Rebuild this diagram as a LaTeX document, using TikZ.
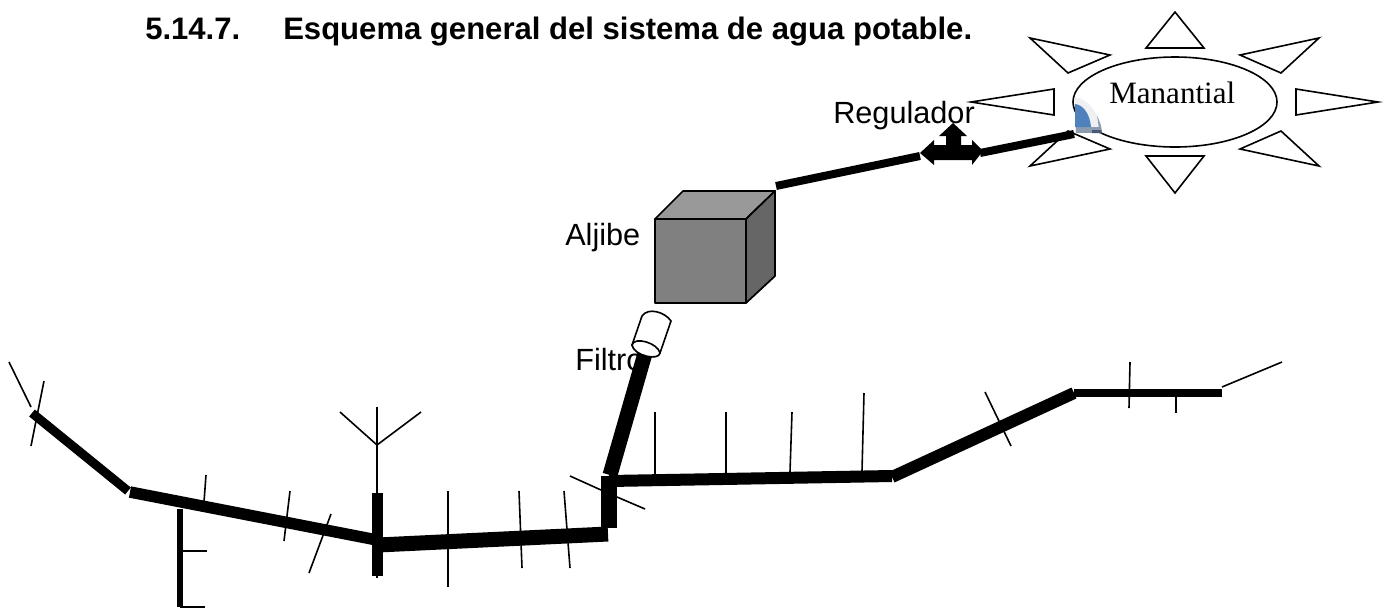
\documentclass[tikz,border=0pt]{standalone}
\usepackage{fontspec}
\setmainfont{Liberation Sans}
\newfontfamily\serifface{Liberation Serif}
\definecolor{markblue}{RGB}{79,129,189}
\definecolor{markpale}{RGB}{238,240,243}
\definecolor{markstrip}{RGB}{140,155,175}
\definecolor{markdark}{RGB}{70,90,120}
\tikzset{
  thin line/.style={line width=1.2pt,black},
  pipe/.style={line width=#1*0.75pt,black,line cap=butt,line join=miter},
  ray/.style={draw=black,line width=1.2pt,fill=white,line join=miter},
  label/.style={inner sep=0pt,anchor=base west,font=\fontsize{23}{27}\selectfont},
  titlelabel/.style={inner sep=0pt,anchor=base west,font=\fontsize{23.3}{27}\selectfont\bfseries},
  cubeedge/.style={draw=black,line width=1.3pt,line join=round}
}
\begin{document}
\begin{tikzpicture}[x=0.75pt,y=-0.75pt]
\useasboundingbox (0,0) rectangle (1388,608);
\fill[white] (0,0) rectangle (1388,608);
% title
\node[titlelabel] (title) at (145,39) {5.14.7.};
\node[titlelabel] (titletext) at (283,39) {Esquema general del sistema de agua potable.};
% sun rays
\draw[ray] (1175,12) -- (1146,48) -- (1204,48) -- cycle;
\draw[ray] (1240,55) -- (1319,38) -- (1281,73) -- cycle;
\draw[ray] (1296,89) -- (1378,102) -- (1296,115) -- cycle;
\draw[ray] (1240,149) -- (1281,131) -- (1319,166) -- cycle;
\draw[ray] (1146,156) -- (1204,156) -- (1175,193) -- cycle;
\draw[ray] (1110,149) -- (1068,131) -- (1030,166) -- cycle;
\draw[ray] (971,102) -- (1054,89) -- (1054,115) -- cycle;
\draw[ray] (1030,38) -- (1110,55) -- (1068,73) -- cycle;
% spring
\draw[ray] (1175,102) ellipse [x radius=102,y radius=45];
\node[label,font=\fontsize{23.3}{27}\serifface\selectfont] (manantial) at (1109,103) {Manantial};
% small blue mark
\fill[markpale] (1075,97) .. controls (1089,99) and (1100,115) .. (1102,133) -- (1075,133) -- cycle;
\fill[markstrip] (1097,116) .. controls (1100,121) and (1102,128) .. (1102,133) -- (1099,133) .. controls (1099,127) and (1098,121) .. (1097,116) -- cycle;
\fill[markstrip] (1076,127) rectangle (1101,133);
\fill[markdark] (1092,130) -- (1101,130) -- (1102,133) -- (1092,133) -- cycle;
\fill[markblue] (1075,104) .. controls (1084,105) and (1090,115) .. (1091,127) -- (1075,127) -- cycle;
% labels under the drawing
\node[label] (regulador) at (833,123) {Regulador};
\node[label] (aljibe) at (565,245) {Aljibe};
\node[label] (filtro) at (575,370) {Filtro};
% upper pipe and regulator
\draw[pipe=8] (776,186) -- (920,156);
\draw[pipe=8] (980,153) -- (1074,134);
\fill[black] (920,153) -- (934,140) -- (934,145) -- (946,145) -- (946,136) -- (939,136) -- (953,123)
  -- (967,136) -- (961,136) -- (961,145) -- (972,145) -- (972,140) -- (983,151) -- (972,165) -- (972,160)
  -- (934,160) -- (934,165) -- cycle;
% cube
\fill[fill={rgb,255:red,128;green,128;blue,128}] (655,219) rectangle (746,303);
\filldraw[cubeedge,fill={rgb,255:red,153;green,153;blue,153}] (655,219) -- (683,191) -- (775,191) -- (746,219) -- cycle;
\filldraw[cubeedge,fill={rgb,255:red,102;green,102;blue,102}] (746,219) -- (775,191) -- (775,276) -- (746,303) -- cycle;
\draw[cubeedge] (655,219) rectangle (746,303);
% supply pipe and filter
\draw[pipe=15] (646,350) -- (610,475);
\filldraw[ray] (632,345) -- (642,316) .. controls (648,307) and (665,312) .. (671,321) -- (660,353)
  .. controls (656,361) and (634,354) .. (632,345) -- cycle;
\filldraw[ray] (632,345) .. controls (634,336) and (658,343) .. (660,353) .. controls (659,361) and (634,356) .. (632,345) -- cycle;
% distribution main
\draw[pipe=9] (32,413) -- (128,491);
\draw[pipe=11.5] (130,492) -- (377,540);
\draw[pipe=11] (377,493) -- (377,576);
\draw[pipe=15] (378,545) -- (608,534);
\draw[pipe=15.5] (609,476) -- (609,528);
\draw[pipe=12] (609,481) -- (892,476);
\draw[pipe=12] (892,477) -- (1074,393);
\draw[pipe=8] (1074,393) -- (1222,393);
\draw[pipe=6] (180,509) -- (180,607);
% thin branches
\draw[thin line] (1222,387) -- (1282,362);
\draw[thin line] (1130,362) -- (1129,408);
\draw[thin line] (1176,397) -- (1176,413);
\draw[thin line] (985,392) -- (1011,446);
\draw[thin line] (655,412) -- (655,475);
\draw[thin line] (726,412) -- (726,473);
\draw[thin line] (792,412) -- (790,472);
\draw[thin line] (864,393) -- (862,471);
\draw[thin line] (570,476) -- (601,490);
\draw[thin line] (617,497) -- (645,509);
\draw[thin line] (448,491) -- (448,587);
\draw[thin line] (519,491) -- (522,568);
\draw[thin line] (564,491) -- (570,568);
\draw[thin line] (377,407) -- (377,578);
\draw[thin line] (340,412) -- (377,445) -- (421,412);
\draw[thin line] (9,362) -- (31,407);
\draw[thin line] (44,381) -- (31,446);
\draw[thin line] (206,475) -- (204,502);
\draw[thin line] (290,491) -- (284,541);
\draw[thin line] (331,514) -- (309,573);
\draw[thin line] (183,551) -- (207,551);
\draw[thin line] (180,607) -- (205,607);
\end{tikzpicture}
\end{document}
